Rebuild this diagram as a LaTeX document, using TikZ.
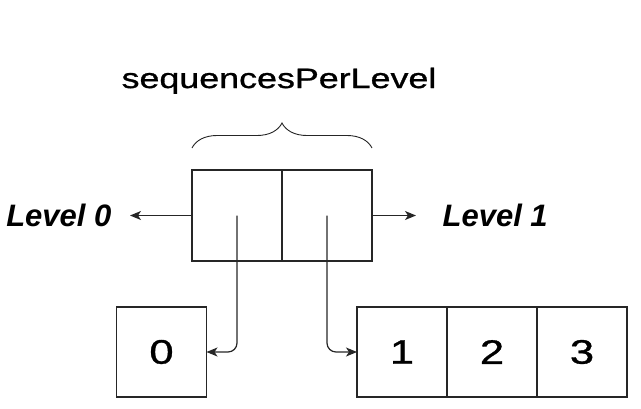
\documentclass[tikz,border=0pt]{standalone}
\usepackage{fontspec}
\setmainfont{Liberation Sans}
\newfontfamily\widefont{Liberation Sans}[FakeStretch=1.28,FakeBold=1]
\usetikzlibrary{positioning,arrows.meta,decorations.pathreplacing}
\begin{document}
\begin{tikzpicture}[x=1pt,y=-1pt,line width=1.2pt,
  cell/.style={draw=black!85,minimum width=90pt,minimum height=90pt,inner sep=0pt,outer sep=0pt,
    font=\widefont\fontsize{34}{38}\selectfont},
  levellabel/.style={inner sep=0pt,font=\bfseries\itshape\fontsize{31}{36}\selectfont},
  link/.style={draw=black!85,-{Stealth[length=11pt,width=9pt,inset=3pt]}}]
  \useasboundingbox (0,0) rectangle (641,408);
  \node[cell,minimum height=91pt] (head0) at (237,215.5) {};
  \node[cell,minimum height=91pt,right=0pt of head0] (head1) {};
  \node[cell] (seq0) at (161.5,352) {0};
  \node[cell] (seq1) at (402,352) {1};
  \node[cell,right=0pt of seq1] (seq2) {2};
  \node[cell,right=0pt of seq2] (seq3) {3};
  \draw[decorate,decoration={brace,amplitude=25pt},line width=0.9pt,black!85]
    ([yshift=22pt]head0.north west) -- ([yshift=22pt]head1.north east);
  \node[font=\widefont\fontsize{28}{32}\selectfont,anchor=base] (title) at (279,88) {sequencesPerLevel};
  \coordinate[left=62pt of head0.west] (tip0);
  \coordinate[right=44pt of head1.east] (tip1);
  \draw[link] (head0.west) -- (tip0);
  \draw[link] (head1.east) -- (tip1);
  \node[levellabel,left=18pt of tip0] (level0) {Level 0};
  \node[levellabel,right=26pt of tip1] (level1) {Level 1};
  \draw[link,rounded corners=9pt] (head0.center) |- (seq0.east);
  \draw[link,rounded corners=9pt] (head1.center) |- (seq1.west);
\end{tikzpicture}
\end{document}
